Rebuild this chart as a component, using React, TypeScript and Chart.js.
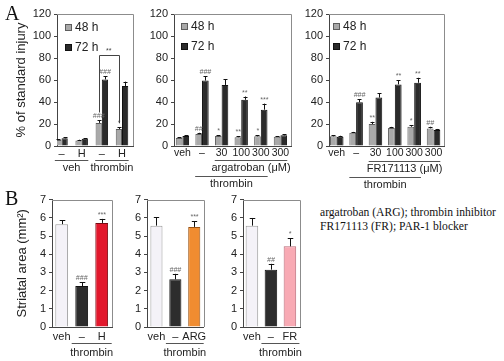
import React, { useEffect, useRef } from 'react';
import { Chart, registerables } from 'chart.js';

Chart.register(...registerables);

const FONT = "'Liberation Sans', Arial, Helvetica, sans-serif";
const SERIF = "'Liberation Serif', 'Times New Roman', serif";

// ---------- Panel A1 ----------
const a1Labels = ['–', 'H', '–', 'H'];
const a1H48 = [5.5, 5, 21, 15.5];
const a1H48Err = [0.8, 0.7, 2.2, 1.5];
const a1H48Sig = ['', '', '###', '*'];
const a1H72 = [7, 6.5, 60.5, 54.5];
const a1H72Err = [0.8, 0.7, 3, 4];
const a1H72Sig = ['', '', '###', ''];

// ---------- Panel A2 ----------
const a2Labels = ['veh', '–', '30', '100', '300', '300'];
const a2H48 = [7.3, 11, 9, 8, 8.8, 8.5];
const a2H48Err = [0.6, 1, 1, 1, 1, 0.6];
const a2H48Sig = ['', '##', '*', '**', '*', ''];
const a2H72 = [9, 59.5, 55.5, 42, 33, 9.7];
const a2H72Err = [0.8, 4, 5, 3, 5.5, 0.8];
const a2H72Sig = ['', '###', '', '**', '***', ''];

// ---------- Panel A3 ----------
const a3Labels = ['veh', '–', '30', '100', '300', '300'];
const a3H48 = [8.8, 12, 20, 16.4, 17.5, 16];
const a3H48Err = [0.8, 0.8, 2, 1, 1.5, 1.5];
const a3H48Sig = ['', '', '**', '', '*', '##'];
const a3H72 = [8.5, 39.7, 44, 56, 57.5, 14.5];
const a3H72Err = [0.8, 3, 4, 4, 4.5, 1];
const a3H72Sig = ['', '###', '', '**', '**', ''];

const seriesNames = ['48 h', '72 h'];
const aYTicksMax = 120;
const aYStep = 20;

// ---------- Panel B ----------
const b1Labels = ['veh', '–', 'H'];
const b1Values = [5.65, 2.25, 5.72];
const b1Errs = [0.22, 0.2, 0.22];
const b1Sig = ['', '###', '***'];

const b2Labels = ['veh', '–', 'ARG'];
const b2Values = [5.57, 2.62, 5.5];
const b2Errs = [0.45, 0.3, 0.3];
const b2Sig = ['', '###', '***'];

const b3Labels = ['veh', '–', 'FR'];
const b3Values = [5.57, 3.15, 4.43];
const b3Errs = [0.42, 0.32, 0.45];
const b3Sig = ['', '##', '*'];

const bYMax = 7;
const bYStep = 1;

const a1Groups = [
  { from: 0, to: 1, label: 'veh', level: 1 },
  { from: 2, to: 3, label: 'thrombin', level: 1 },
];
const a2Groups = [
  { from: 2, to: 5, label: 'argatroban (μM)', level: 1 },
  { from: 1, to: 4, label: 'thrombin', level: 2 },
];
const a3Groups = [
  { from: 2, to: 5, label: 'FR171113 (μM)', level: 1 },
  { from: 1, to: 4, label: 'thrombin', level: 2 },
];
const bGroups = [{ from: 1, to: 2, label: 'thrombin', level: 1 }];

const noteLines = ['argatroban (ARG); thrombin inhibitor', 'FR171113 (FR); PAR-1 blocker'];

// ---------- styles ----------
const C48 = '#a9a9a9';
const C48B = '#5e5e5e';
const C72 = '#2b2b2b';
const C72B = '#111111';
const CVEH = '#f4f2f8';
const CVEHB = '#9a9a9a';
const CBLK = '#2d2d2d';
const CH = '#e2182c';
const CHB = '#7a0a12';
const CARG = '#f08c30';
const CARGB = '#9a5212';
const CFR = '#f8aab4';
const CFRB = '#b86a78';

type DS = {
  label: string;
  values: number[];
  errs: number[];
  sig: string[];
  fill: string | string[];
  border: string | string[];
};
type Group = { from: number; to: number; label: string; level: number };
type Spec = {
  box: number[];
  plot: number[];
  xRange: number[];
  labels: string[];
  datasets: DS[];
  yMax: number;
  yStep: number;
  yTitle?: string;
  yTitleX?: number;
  catPct: number;
  groups: Group[];
  groupOff: number[];
  groupHalf: number;
  tickPad: number;
  tickFont: number;
  legend?: number[];
  bracket?: { ds: number; i1: number; i2: number; value: number; label: string };
};

function aDatasets(h48: number[], e48: number[], s48: string[], h72: number[], e72: number[], s72: string[]): DS[] {
  return [
    { label: seriesNames[0], values: h48, errs: e48, sig: s48, fill: C48, border: C48B },
    { label: seriesNames[1], values: h72, errs: e72, sig: s72, fill: C72, border: C72B },
  ];
}

const specA1: Spec = {
  box: [0, 0, 140, 190],
  plot: [57, 14, 133, 146],
  xRange: [-0.223, 3.545],
  labels: a1Labels,
  datasets: aDatasets(a1H48, a1H48Err, a1H48Sig, a1H72, a1H72Err, a1H72Sig),
  yMax: aYTicksMax,
  yStep: aYStep,
  yTitle: '% of standard injury',
  yTitleX: 21,
  catPct: 0.62,
  groups: a1Groups,
  groupOff: [14, 22, 30, 37.5],
  groupHalf: 0.33,
  tickPad: 1,
  tickFont: 11,
  legend: [8, 10],
  bracket: { ds: 0, i1: 2, i2: 3, value: 83, label: '**' },
};

const specA2: Spec = {
  box: [140, 0, 160, 190],
  plot: [174, 14, 291, 146],
  xRange: [-0.43, 5.54],
  labels: a2Labels,
  datasets: aDatasets(a2H48, a2H48Err, a2H48Sig, a2H72, a2H72Err, a2H72Sig),
  yMax: aYTicksMax,
  yStep: aYStep,
  catPct: 0.68,
  groups: a2Groups,
  groupOff: [14, 22, 30, 37.5],
  groupHalf: 0.35,
  tickPad: 1,
  tickFont: 10.5,
  legend: [7, 9],
};

const specA3: Spec = {
  box: [300, 0, 150, 190],
  plot: [329, 14, 444, 146],
  xRange: [-0.4, 5.54],
  labels: a3Labels,
  datasets: aDatasets(a3H48, a3H48Err, a3H48Sig, a3H72, a3H72Err, a3H72Sig),
  yMax: aYTicksMax,
  yStep: aYStep,
  catPct: 0.7,
  groups: a3Groups,
  groupOff: [15, 23, 31, 38.5],
  groupHalf: 0.35,
  tickPad: 1,
  tickFont: 10.5,
  legend: [4, 9],
};

const specB1: Spec = {
  box: [0, 190, 120, 171],
  plot: [52, 197.5, 112, 327],
  xRange: [-0.485, 2.515],
  labels: b1Labels,
  datasets: [
    { label: 'B1', values: b1Values, errs: b1Errs, sig: b1Sig, fill: [CVEH, CBLK, CH], border: [CVEHB, '#111', CHB] },
  ],
  yMax: bYMax,
  yStep: bYStep,
  yTitle: 'Striatal area (mm²)',
  yTitleX: 22,
  catPct: 0.64,
  groups: bGroups,
  groupOff: [16, 25.5, 0, 0],
  groupHalf: 0.5,
  tickPad: 3,
  tickFont: 11,
};

const specB2: Spec = {
  box: [120, 190, 90, 171],
  plot: [147, 197.5, 205, 327],
  xRange: [-0.5, 2.5],
  labels: b2Labels,
  datasets: [
    { label: 'B2', values: b2Values, errs: b2Errs, sig: b2Sig, fill: [CVEH, CBLK, CARG], border: [CVEHB, '#111', CARGB] },
  ],
  yMax: bYMax,
  yStep: bYStep,
  catPct: 0.64,
  groups: bGroups,
  groupOff: [16, 25.5, 0, 0],
  groupHalf: 0.5,
  tickPad: 3,
  tickFont: 11,
};

const specB3: Spec = {
  box: [210, 190, 100, 171],
  plot: [243, 197.5, 300, 327],
  xRange: [-0.47, 2.53],
  labels: b3Labels,
  datasets: [
    { label: 'B3', values: b3Values, errs: b3Errs, sig: b3Sig, fill: [CVEH, CBLK, CFR], border: [CVEHB, '#111', CFRB] },
  ],
  yMax: bYMax,
  yStep: bYStep,
  catPct: 0.66,
  groups: bGroups,
  groupOff: [16, 25.5, 0, 0],
  groupHalf: 0.5,
  tickPad: 3,
  tickFont: 11,
};

const r = (v: number) => Math.round(v) + 0.5;

function buildConfig(s: Spec): any {
  const [cx, cy, cw, ch] = s.box;
  const [pl, pt, pr, pb] = s.plot;
  const datasets = s.datasets.map((d) => ({
    label: d.label,
    data: d.values.map((v, i) => ({ x: i, y: v })),
    backgroundColor: d.fill,
    borderColor: d.border,
    borderWidth: 1,
    borderSkipped: 'bottom',
    categoryPercentage: s.catPct,
    barPercentage: 1,
  }));

  const overlay = {
    id: 'overlay',
    afterDraw(chart: any) {
      const ctx = chart.ctx;
      const a = chart.chartArea;
      const xs = chart.scales.x;
      const ys = chart.scales.y;
      ctx.save();
      // frame (top + right)
      ctx.strokeStyle = '#8c8c8c';
      ctx.lineWidth = 1;
      ctx.beginPath();
      ctx.moveTo(a.left, r(a.top));
      ctx.lineTo(r(a.right), r(a.top));
      ctx.lineTo(r(a.right), a.bottom);
      ctx.stroke();

      // error bars + significance marks
      s.datasets.forEach((d, di) => {
        const meta = chart.getDatasetMeta(di);
        meta.data.forEach((el: any, i: number) => {
          const x = r(el.x);
          const top = ys.getPixelForValue(d.values[i] + d.errs[i]);
          const cap = Math.max(2, el.width * 0.22);
          ctx.strokeStyle = '#111';
          ctx.lineWidth = 1;
          ctx.beginPath();
          ctx.moveTo(x, el.y);
          ctx.lineTo(x, top);
          ctx.moveTo(x - cap, r(top));
          ctx.lineTo(x + cap, r(top));
          ctx.stroke();
          if (d.sig[i]) {
            ctx.font = 'italic 7px ' + FONT;
            ctx.fillStyle = '#666';
            ctx.textAlign = 'center';
            ctx.textBaseline = 'alphabetic';
            ctx.fillText(d.sig[i], el.x, top - 2);
          }
        });
      });

      // group lines and labels
      const spacing = xs.getPixelForValue(1) - xs.getPixelForValue(0);
      const half = spacing * s.groupHalf;
      s.groups.forEach((g) => {
        const x1 = xs.getPixelForValue(g.from) - half;
        const x2 = xs.getPixelForValue(g.to) + half;
        const ly = a.bottom + (g.level === 1 ? s.groupOff[0] : s.groupOff[2]);
        const ty = a.bottom + (g.level === 1 ? s.groupOff[1] : s.groupOff[3]);
        ctx.strokeStyle = '#555';
        ctx.lineWidth = 1;
        ctx.beginPath();
        ctx.moveTo(x1, r(ly));
        ctx.lineTo(x2, r(ly));
        ctx.stroke();
        ctx.font = '11px ' + FONT;
        ctx.fillStyle = '#222';
        ctx.textAlign = 'center';
        ctx.textBaseline = 'middle';
        ctx.fillText(g.label, (x1 + x2) / 2, ty);
      });

      // legend
      if (s.legend) {
        s.datasets.forEach((d, k) => {
          const lx = a.left + s.legend![0];
          const ly = a.top + s.legend![1] + k * 20;
          ctx.fillStyle = d.fill as string;
          ctx.fillRect(lx, ly, 7, 7);
          ctx.strokeStyle = d.border as string;
          ctx.strokeRect(lx + 0.5, ly + 0.5, 6, 6);
          ctx.font = '12px ' + FONT;
          ctx.fillStyle = '#222';
          ctx.textAlign = 'left';
          ctx.textBaseline = 'middle';
          ctx.fillText(d.label, lx + 10, ly + 4);
        });
      }

      // bracket
      if (s.bracket) {
        const b = s.bracket;
        const meta = chart.getDatasetMeta(b.ds);
        const e1 = meta.data[b.i1];
        const e2 = meta.data[b.i2];
        const d = s.datasets[b.ds];
        const yb = r(ys.getPixelForValue(b.value));
        const y1 = ys.getPixelForValue(d.values[b.i1] + d.errs[b.i1]) - 8;
        const y2 = ys.getPixelForValue(d.values[b.i2] + d.errs[b.i2]) - 4;
        ctx.strokeStyle = '#444';
        ctx.beginPath();
        ctx.moveTo(r(e1.x), y1);
        ctx.lineTo(r(e1.x), yb);
        ctx.lineTo(r(e2.x), yb);
        ctx.lineTo(r(e2.x), y2);
        ctx.stroke();
        ctx.font = '7px ' + FONT;
        ctx.fillStyle = '#444';
        ctx.textAlign = 'center';
        ctx.textBaseline = 'alphabetic';
        ctx.fillText(b.label, (e1.x + e2.x) / 2, yb - 3);
      }
      ctx.restore();
    },
  };

  return {
    type: 'bar',
    data: { datasets },
    options: {
      responsive: false,
      animation: false,
      devicePixelRatio: 1,
      layout: { padding: { left: 0, top: pt - cy, right: cx + cw - pr, bottom: 0 } },
      plugins: { legend: { display: false }, tooltip: { enabled: false } },
      scales: {
        x: {
          type: 'linear',
          min: s.xRange[0],
          max: s.xRange[1],
          offset: false,
          grid: { display: false, drawTicks: false },
          border: { display: true, color: '#444', width: 1 },
          ticks: {
            autoSkip: false,
            maxRotation: 0,
            minRotation: 0,
            padding: s.tickPad,
            color: '#222',
            font: { family: FONT, size: s.tickFont },
            callback: (v: number) => s.labels[Math.round(v)] ?? '',
          },
          afterBuildTicks: (sc: any) => {
            sc.ticks = s.labels.map((_, i) => ({ value: i }));
          },
          afterFit: (sc: any) => {
            sc.height = cy + ch - pb;
          },
        },
        y: {
          min: 0,
          max: s.yMax,
          grid: { display: true, drawOnChartArea: false, drawTicks: true, tickLength: 3, color: '#444' },
          border: { display: true, color: '#444', width: 1 },
          ticks: {
            stepSize: s.yStep,
            padding: 3,
            color: '#222',
            font: { family: FONT, size: 11 },
          },
          title: s.yTitle
            ? {
                display: true,
                text: s.yTitle,
                color: '#222',
                font: { family: FONT, size: 13, lineHeight: 1 },
                padding: { top: (s.yTitleX ?? 20) - 6.5 - cx, bottom: 0 },
              }
            : { display: false },
          afterFit: (sc: any) => {
            sc.width = pl - cx;
          },
        },
      },
    },
    plugins: [overlay],
  };
}

function Panel({ spec }: { spec: Spec }) {
  const ref = useRef<HTMLCanvasElement | null>(null);
  useEffect(() => {
    const chart = new Chart(ref.current as HTMLCanvasElement, buildConfig(spec));
    return () => chart.destroy();
  }, [spec]);
  const [x, y, w, h] = spec.box;
  return (
    <canvas
      ref={ref}
      width={w}
      height={h}
      style={{ position: 'absolute', left: x, top: y, width: w, height: h, display: 'block' }}
    />
  );
}

export default function App() {
  return (
    <div
      style={{
        position: 'absolute',
        left: 0,
        top: 0,
        width: 504,
        height: 361,
        background: '#ffffff',
        overflow: 'hidden',
      }}
    >
      <Panel spec={specA1} />
      <Panel spec={specA2} />
      <Panel spec={specA3} />
      <Panel spec={specB1} />
      <Panel spec={specB2} />
      <Panel spec={specB3} />
      <div style={{ position: 'absolute', left: 5, top: 3, font: `20px ${SERIF}`, lineHeight: '20px', color: '#111' }}>A</div>
      <div style={{ position: 'absolute', left: 5, top: 188, font: `20px ${SERIF}`, lineHeight: '20px', color: '#111' }}>B</div>
      <div
        style={{
          position: 'absolute',
          left: 320,
          top: 206,
          font: `11.6px ${SERIF}`,
          lineHeight: '13.7px',
          color: '#111',
          whiteSpace: 'nowrap',
        }}
      >
        {noteLines.map((t, i) => (
          <div key={i}>{t}</div>
        ))}
      </div>
    </div>
  );
}
